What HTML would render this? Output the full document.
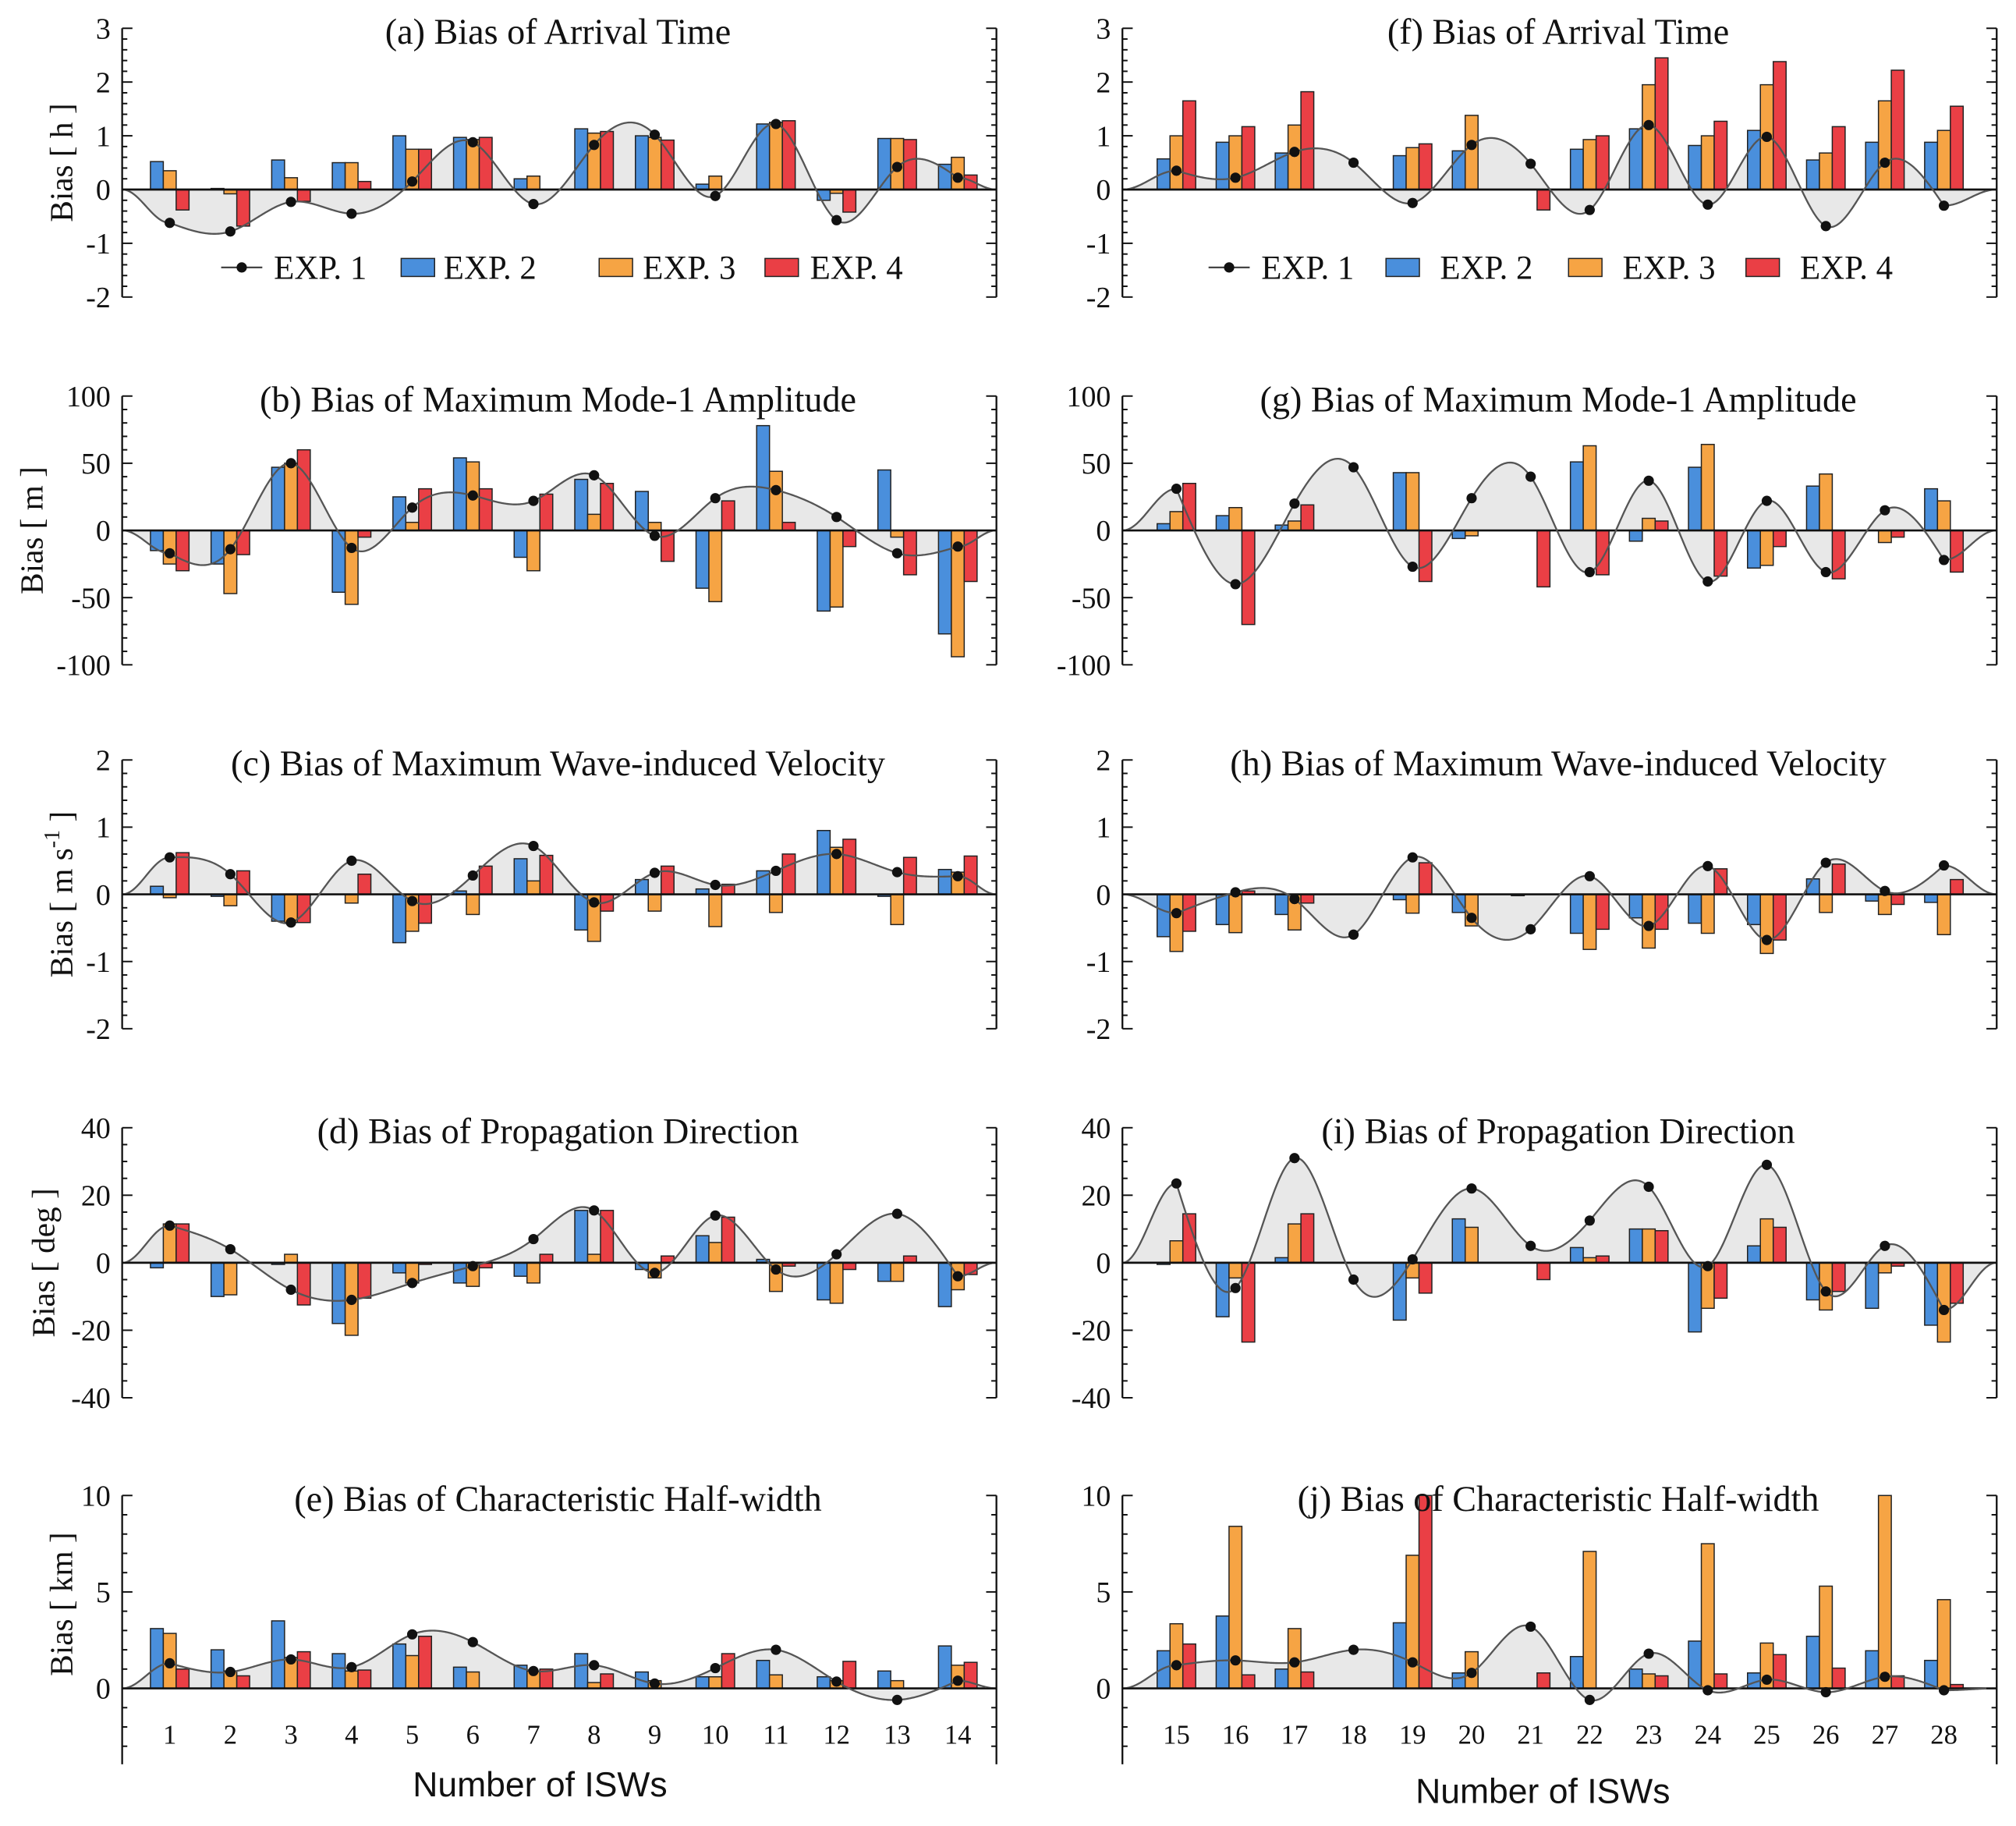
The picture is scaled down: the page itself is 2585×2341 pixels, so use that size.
<!DOCTYPE html>
<html><head><meta charset="utf-8"><style>
html,body{margin:0;padding:0;background:#fff;}
svg text{font-family:"Liberation Serif",serif;fill:#111;}
</style></head><body>
<svg id="chart" width="2585" height="2336" viewBox="0 0 1568 1417" xmlns="http://www.w3.org/2000/svg"></svg>
<script>
// ---------- data ----------
const catsLeft = [1,2,3,4,5,6,7,8,9,10,11,12,13,14];
const catsRight = [15,16,17,18,19,20,21,22,23,24,25,26,27,28];
// (a) arrival time
const a1 = [-0.62,-0.78,-0.23,-0.45,0.15,0.88,-0.27,0.83,1.02,-0.12,1.22,-0.57,0.42,0.22];
const a2 = [0.52,0.02,0.55,0.5,1.0,0.97,0.2,1.13,1.0,0.1,1.22,-0.2,0.95,0.47];
const a3 = [0.35,-0.08,0.22,0.5,0.75,0.93,0.25,1.05,0.97,0.25,1.25,-0.07,0.95,0.6];
const a4 = [-0.38,-0.68,-0.22,0.15,0.75,0.97,0.0,1.08,0.92,0.0,1.28,-0.42,0.93,0.27];
// (f)
const f1 = [0.35,0.22,0.7,0.5,-0.25,0.83,0.48,-0.38,1.2,-0.28,0.98,-0.68,0.5,-0.3];
const f2 = [0.57,0.88,0.68,0,0.63,0.72,0,0.75,1.13,0.82,1.1,0.55,0.88,0.88];
const f3 = [1.0,1.0,1.2,0,0.78,1.38,0,0.93,1.95,1.0,1.95,0.68,1.65,1.1];
const f4 = [1.65,1.17,1.82,0,0.85,0,-0.38,1.0,2.45,1.27,2.38,1.17,2.22,1.55];
// (b) amplitude
const b1 = [-17,-14,50,-13,17,26,22,41,-4,24,30,10,-17,-12];
const b2 = [-15,-25,47,-46,25,54,-20,38,29,-43,78,-60,45,-77];
const b3 = [-25,-47,50,-55,6,51,-30,12,6,-53,44,-57,-5,-94];
const b4 = [-30,-18,60,-5,31,31,27,35,-23,22,6,-12,-33,-38];
// (g)
const g1 = [31,-40,20,47,-27,24,40,-31,37,-38,22,-31,15,-22];
const g2 = [5,11,4,0,43,-6,0,51,-8,47,-28,33,0,31];
const g3 = [14,17,7,0,43,-4,0,63,9,64,-26,42,-9,22];
const g4 = [35,-70,19,0,-38,0,-42,-33,7,-34,-12,-36,-5,-31];
// (c) velocity
const c1 = [0.55,0.3,-0.42,0.5,-0.1,0.28,0.72,-0.12,0.32,0.14,0.35,0.6,0.33,0.27];
const c2 = [0.12,-0.03,-0.4,0,-0.72,0.05,0.53,-0.53,0.22,0.08,0.35,0.95,-0.03,0.37];
const c3 = [-0.05,-0.17,-0.42,-0.13,-0.55,-0.3,0.2,-0.7,-0.25,-0.48,-0.27,0.7,-0.45,0.33];
const c4 = [0.62,0.35,-0.42,0.3,-0.43,0.42,0.58,-0.25,0.42,0.15,0.6,0.82,0.55,0.57];
// (h)
const h1 = [-0.28,0.03,-0.07,-0.6,0.55,-0.35,-0.52,0.27,-0.47,0.42,-0.68,0.47,0.05,0.43];
const h2 = [-0.63,-0.45,-0.3,0,-0.08,-0.27,-0.02,-0.58,-0.35,-0.43,-0.45,0.23,-0.1,-0.12];
const h3 = [-0.85,-0.57,-0.53,0,-0.28,-0.47,0,-0.82,-0.8,-0.58,-0.88,-0.27,-0.3,-0.6];
const h4 = [-0.55,0.05,-0.13,0,0.47,0,0,-0.52,-0.52,0.38,-0.68,0.45,-0.15,0.22];
// (d) direction
const d1 = [11,4,-8,-11,-6,-1,7,15.5,-3,14,-2,2.5,14.5,-4];
const d2 = [-1.5,-10,-0.5,-18,-3,-6,-4,15.5,-2,8,1,-11,-5.5,-13];
const d3 = [11.5,-9.5,2.5,-21.5,-6,-7,-6,2.5,-4.5,6,-8.5,-12,-5.5,-8];
const d4 = [11.5,0,-12.5,-10.5,-0.5,-1.5,2.5,15.5,2,13.5,-1,-2,2,-3.5];
// (i)
const i1 = [23.5,-7.5,31,-5,1,22,5,12.5,22.5,-1,29,-8.5,5,-14];
const i2 = [-0.5,-16,1.5,0,-17,13,0,4.5,10,-20.5,5,-11,-13.5,-18.5];
const i3 = [6.5,-4.5,11.5,0,-4.5,10.5,0,1.5,10,-13.5,13,-14,-3,-23.5];
const i4 = [14.5,-23.5,14.5,0,-9,0,-5,2,9.5,-10.5,10.5,-8.5,-1,-12];
// (e) half-width
const e1 = [1.3,0.85,1.5,1.1,2.8,2.4,0.9,1.2,0.25,1.05,2.0,0.35,-0.6,0.4];
const e2 = [3.1,2.0,3.5,1.8,2.3,1.1,1.2,1.8,0.85,0.6,1.45,0.6,0.9,2.2];
const e3 = [2.85,0.9,1.6,0.9,1.7,0.85,0.9,0.3,0.4,0.6,0.7,0.4,0.4,1.2];
const e4 = [1.0,0.65,1.9,0.95,2.7,0,1.0,0.75,-1.05,1.8,-0.25,1.4,-0.7,1.35];
// (j)
const j1 = [1.2,1.45,1.35,2.0,1.35,0.8,3.2,-0.6,1.8,-0.1,0.45,-0.2,0.6,-0.1];
const j2 = [1.95,3.75,1.0,0,3.4,0.8,0,1.65,1.0,2.45,0.8,2.7,1.95,1.45];
const j3 = [3.35,8.4,3.1,0,6.9,1.9,0,7.1,0.75,7.5,2.35,5.3,10,4.6];
const j4 = [2.3,0.7,0.85,0,10,0,0.8,-0.55,0.65,0.75,1.75,1.05,0.65,0.2];

const titles = ["(a) Bias of Arrival Time","(b) Bias of Maximum Mode-1 Amplitude","(c) Bias of Maximum Wave-induced Velocity","(d) Bias of Propagation Direction","(e) Bias of Characteristic Half-width","(f) Bias of Arrival Time","(g) Bias of Maximum Mode-1 Amplitude","(h) Bias of Maximum Wave-induced Velocity","(i) Bias of Propagation Direction","(j) Bias of Characteristic Half-width"];
const yTicksA = [-2,-1,0,1,2,3];
const yTicksB = [-100,-50,0,50,100];
const yTicksC = [-2,-1,0,1,2];
const yTicksD = [-40,-20,0,20,40];
const yTicksE = [0,5,10];
const legendLabels = ["EXP. 1","EXP. 2","EXP. 3","EXP. 4"];

// ---------- layout ----------
const svg = document.getElementById('chart');
const NS = 'http://www.w3.org/2000/svg';
const COLORS = ['#4a8fdc','#f6a444','#ea3f45'];
function mk(tag, attrs, parent){
  const el = document.createElementNS(NS, tag);
  for (const k in attrs) el.setAttribute(k, attrs[k]);
  (parent||svg).appendChild(el);
  return el;
}
const rows = [
  {top:22,bot:231,min:-2,max:3,axBot:231,ticks:yTicksA,minor:5,ylabel:'Bias [ h ]',lx:48},
  {top:308,bot:517,min:-100,max:100,axBot:517,ticks:yTicksB,minor:5,ylabel:'Bias [ m ]',lx:25},
  {top:591,bot:800,min:-2,max:2,axBot:800,ticks:yTicksC,minor:5,ylabel:'VEL',lx:48},
  {top:877,bot:1087,min:-40,max:40,axBot:1087,ticks:yTicksD,minor:4,ylabel:'Bias [ deg ]',lx:34},
  {top:1163,bot:1313,min:0,max:10,axBot:1372,ticks:yTicksE,minor:5,ylabel:'Bias [ km ]',lx:48}
];
const sides = [
  {x0:95,x1:775,c0:132,dx:47.15,cats:catsLeft,labX:86,
   data:[[a1,a2,a3,a4],[b1,b2,b3,b4],[c1,c2,c3,c4],[d1,d2,d3,d4],[e1,e2,e3,e4]]},
  {x0:873,x1:1553,c0:915,dx:45.92,cats:catsRight,labX:864,
   data:[[f1,f2,f3,f4],[g1,g2,g3,g4],[h1,h2,h3,h4],[i1,i2,i3,i4],[j1,j2,j3,j4]]}
];

function naturalSpline(xs, ys, xL, xR){
  const n = xs.length, h=[], al=[0], l=[1], mu=[0], z=[0], c=new Array(n).fill(0), b=[], d=[];
  for (let i=0;i<n-1;i++) h.push(xs[i+1]-xs[i]);
  for (let i=1;i<n-1;i++) al.push(3/h[i]*(ys[i+1]-ys[i]) - 3/h[i-1]*(ys[i]-ys[i-1]));
  for (let i=1;i<n-1;i++){ l[i]=2*(xs[i+1]-xs[i-1])-h[i-1]*mu[i-1]; mu[i]=h[i]/l[i]; z[i]=(al[i]-h[i-1]*z[i-1])/l[i]; }
  l[n-1]=1; z[n-1]=0;
  for (let j=n-2;j>=0;j--){ c[j]=z[j]-mu[j]*c[j+1]; b[j]=(ys[j+1]-ys[j])/h[j]-h[j]*(c[j+1]+2*c[j])/3; d[j]=(c[j+1]-c[j])/(3*h[j]); }
  return function(x){
    if (x < xs[0]) { const s = (xs[0] - x) / (xs[0] - xL); return ys[0] * (1 + Math.cos(Math.PI * s)) / 2; }
    if (x > xs[n-1]) { const s = (x - xs[n-1]) / (xR - xs[n-1]); return ys[n-1] * (1 + Math.cos(Math.PI * s)) / 2; }
    let i=0; while(i<n-2 && x>xs[i+1]) i++;
    const t=x-xs[i];
    return ys[i]+b[i]*t+c[i]*t*t+d[i]*t*t*t;
  };
}

sides.forEach((S, si) => {
  rows.forEach((R, ri) => {
    const g = mk('g', {});
    
    
    const sy = v => R.bot - (v - R.min) / (R.max - R.min) * (R.bot - R.top);
    const sxi = i => S.c0 + i * S.dx;
    const y0 = sy(0);
    const [s1, s2, s3, s4] = S.data[ri];
    const idx = S.cats.map((_, k) => k);
    const iMin = (S.x0 - S.c0) / S.dx, iMax = (S.x1 - S.c0) / S.dx;
    const f = naturalSpline(idx, s1, iMin, iMax);
    let pts = [];
    for (let t = iMin; t <= iMax + 1e-9; t += 0.02) {
      let v = f(t); let yy = Math.max(R.top, Math.min(R.axBot, sy(v)));
      pts.push([sxi(t), yy]);
    }
    const line = pts.map(p => p[0].toFixed(2) + ',' + p[1].toFixed(2)).join(' ');
    const fillEl = mk('polygon', {points: S.x0 + ',' + y0 + ' ' + line + ' ' + S.x1 + ',' + y0, fill:'#e8e8e8', stroke:'none'}, g);
    
    
    [s2, s3, s4].forEach((ser, k) => {
      ser.forEach((v, i) => {
        if (v === 0) return;
        const vv = Math.max(R.min, Math.min(R.max, v));
        const ya = sy(vv);
        const r = mk('rect', {x: sxi(i) - 15 + k*10, y: Math.min(ya, y0), width: 10, height: Math.abs(ya - y0), fill: COLORS[k], stroke:'#222', 'stroke-width':0.9}, g);
        
        
      });
    });
    const zl = mk('line', {x1:S.x0, x2:S.x1, y1:y0, y2:y0, stroke:'#111', 'stroke-width':1.6}, g);
    
    
    const cl = mk('polyline', {points: line, fill:'none', stroke:'#555', 'stroke-width':1.4}, g);
    
    
    s1.forEach((v, i) => {
      const dot = mk('circle', {cx: sxi(i), cy: sy(v), r: 4, fill:'#111'}, g);
      
      
    });
    [S.x0, S.x1].forEach((ax, side) => {
      const dir = side === 0 ? 1 : -1;
      const a = mk('line', {x1:ax, x2:ax, y1:R.top, y2:R.axBot, stroke:'#111', 'stroke-width':1.4}, g);
      
      
      const step = R.ticks[1] - R.ticks[0];
      const lo = R.min - (R.axBot > R.bot ? step : 0);
      for (let v = lo; v <= R.max + 1e-9; v += step / R.minor) {
        const yy = sy(v);
        if (yy > R.axBot + 0.5 || yy < R.top - 0.5) continue;
        const isMaj = Math.abs(Math.round(v / step) * step - v) < 1e-6;
        mk('line', {x1:ax, x2:ax + dir*(isMaj ? 8 : 4), y1:yy, y2:yy, stroke:'#111', 'stroke-width':1.2}, g);
      }
    });
    R.ticks.forEach(v => {
      const t = mk('text', {x:S.labX, y:sy(v) + 8, 'font-size':23, 'text-anchor':'end'}, g);
      t.textContent = v;
      
      
    });
    const tt = mk('text', {x:(S.x0 + S.x1)/2 - 1, y:R.top + 12, 'font-size':28, 'text-anchor':'middle'}, g);
    tt.textContent = titles[si*5+ri];
    
    
    if (si === 0) {
      const cy = (R.top + R.axBot) / 2 - (ri === 4 ? 20 : 0);
      const yl = mk('text', {x:R.lx + 8, y:cy, 'font-size':25, 'text-anchor':'middle', transform:'rotate(-90 ' + (R.lx + 8) + ' ' + cy + ')'}, g);
      if (R.ylabel === 'VEL') {
        yl.innerHTML = 'Bias [ m s<tspan dy="-10" font-size="17">-1</tspan><tspan dy="10"> ]</tspan>';
      } else yl.textContent = R.ylabel;
      
      
    }
    if (ri === 4) {
      S.cats.forEach((c, i) => {
        const ct = mk('text', {x:sxi(i), y:1356, 'font-size':21, 'text-anchor':'middle'}, g);
        ct.textContent = c;
        
        
      });
    }
  });
  const xt = mk('text', {x: si === 0 ? 420 : 1200, y: si === 0 ? 1397 : 1402, 'font-size':27, 'text-anchor':'middle', style:'font-family:"Liberation Sans",sans-serif'});
  xt.textContent = 'Number of  ISWs';
  
  
  const lg = mk('g', {});
  
  
  const lx = si === 0 ? [172, 312, 466, 595] : [940, 1078, 1220, 1358];
  const tx = si === 0 ? [213, 345, 500, 630] : [981, 1120, 1262, 1400];
  legendLabels.forEach((lab, k) => {
    const e = mk('g', {}, lg);
    
    
    if (k === 0) {
      mk('line', {x1:lx[0], x2:lx[0]+32, y1:208, y2:208, stroke:'#444', 'stroke-width':1.4}, e);
      mk('circle', {cx:lx[0]+16, cy:208, r:4, fill:'#111'}, e);
    } else {
      mk('rect', {x:lx[k], y:201, width:26, height:14, fill:COLORS[k-1], stroke:'#222', 'stroke-width':0.9}, e);
    }
    const t = mk('text', {x:tx[k], y:217, 'font-size':26}, e);
    t.textContent = lab;
  });
});
</script>
</body></html>
